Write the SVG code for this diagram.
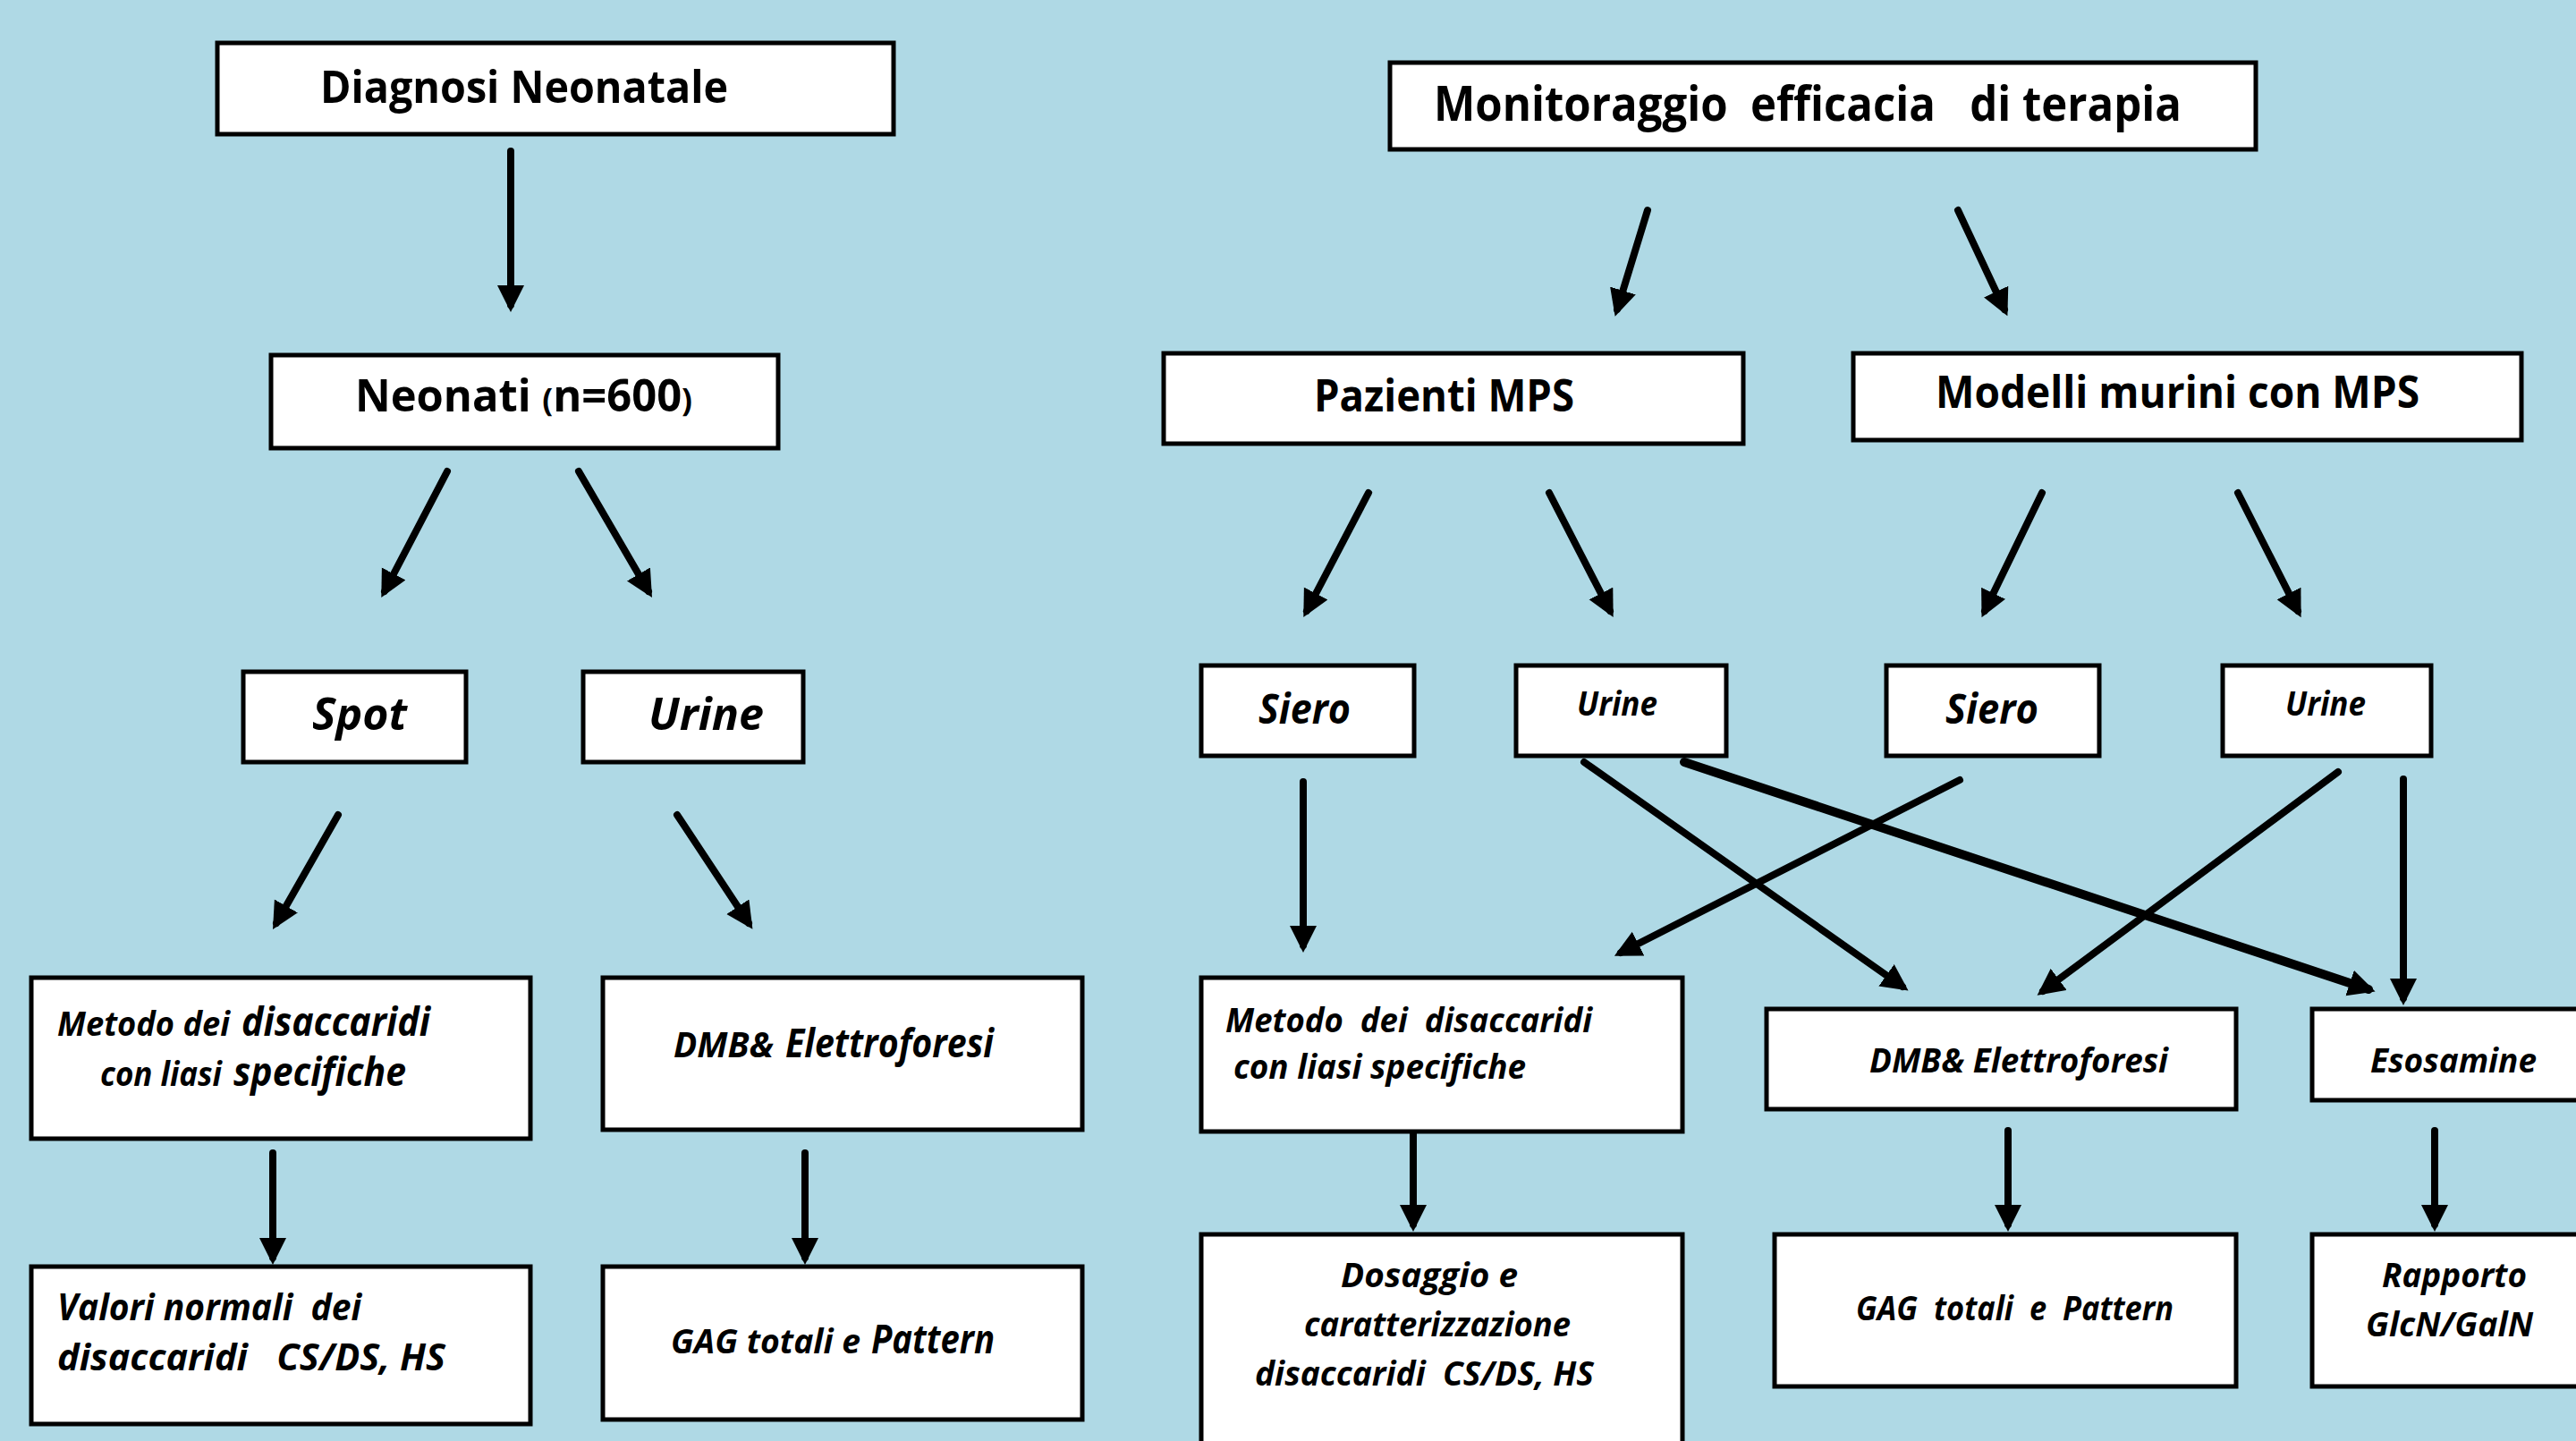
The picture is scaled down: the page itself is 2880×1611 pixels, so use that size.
<svg xmlns="http://www.w3.org/2000/svg" width="2880" height="1611" viewBox="0 0 2880 1611">
<defs>
<style>
.box{fill:#fff;stroke:#000;stroke-width:5}
.t{font-family:"Open Sans","Liberation Sans",sans-serif;font-weight:bold;fill:#000}
.i{font-style:italic}
.c line{stroke:#000;stroke-width:8;stroke-linecap:round;marker-end:url(#ah)}
</style>
<marker id="ah" markerUnits="userSpaceOnUse" markerWidth="32" markerHeight="32" refX="22" refY="15" orient="auto">
<path d="M0,0 L30,15 L0,30 z" fill="#000"/>
</marker>
</defs>
<rect x="0" y="0" width="2880" height="1611" fill="#AFD9E5"/>

<g class="c" id="connectors">
<line x1="571" y1="169" x2="571" y2="341"/>
<line x1="500" y1="527" x2="430" y2="661"/>
<line x1="647" y1="527" x2="725" y2="661"/>
<line x1="378" y1="911" x2="309" y2="1032"/>
<line x1="757" y1="911" x2="837" y2="1032"/>
<line x1="305" y1="1289" x2="305" y2="1406"/>
<line x1="900" y1="1289" x2="900" y2="1406"/>
<line x1="1842" y1="235" x2="1808" y2="346"/>
<line x1="2189" y1="235" x2="2241" y2="346"/>
<line x1="1530" y1="551" x2="1461" y2="683"/>
<line x1="1732" y1="551" x2="1800" y2="683"/>
<line x1="2283" y1="551" x2="2219" y2="683"/>
<line x1="2502" y1="551" x2="2569" y2="683"/>
<line x1="1457" y1="874" x2="1457" y2="1057"/>
<line x1="1771" y1="852" x2="2127" y2="1103"/>
<line x1="1883" y1="852" x2="2648" y2="1106" style="stroke-width:10"/>
<line x1="2191" y1="872" x2="1812" y2="1065"/>
<line x1="2614" y1="863" x2="2284" y2="1108"/>
<line x1="2687" y1="871" x2="2687" y2="1116"/>
<line x1="1580" y1="1264" x2="1580" y2="1369"/>
<line x1="2245" y1="1264" x2="2245" y2="1369"/>
<line x1="2722" y1="1264" x2="2722" y2="1369"/>
</g>

<g id="diagnosi">
<rect class="box" x="243" y="48" width="756" height="102"/>
<text class="t" x="358" y="115" font-size="50" textLength="456" lengthAdjust="spacingAndGlyphs">Diagnosi Neonatale</text>
</g>
<g id="neonati">
<rect class="box" x="303" y="397" width="567" height="104"/>
<text class="t" x="397" y="460" font-size="50" textLength="377" lengthAdjust="spacingAndGlyphs">Neonati <tspan font-size="36">(</tspan>n=600<tspan font-size="36">)</tspan></text>
</g>
<g id="spot">
<rect class="box" x="272" y="751" width="249" height="101"/>
<text class="t i" x="349" y="816" font-size="50" textLength="106" lengthAdjust="spacingAndGlyphs">Spot</text>
</g>
<g id="urine-left">
<rect class="box" x="652" y="751" width="246" height="101"/>
<text class="t i" x="725" y="816" font-size="50" textLength="129" lengthAdjust="spacingAndGlyphs">Urine</text>
</g>
<g id="metodo-left">
<rect class="box" x="35" y="1093" width="558" height="180"/>
<text class="t i" x="64" y="1158" font-size="37" textLength="193" lengthAdjust="spacingAndGlyphs">Metodo dei</text>
<text class="t i" x="270" y="1158" font-size="44" textLength="211" lengthAdjust="spacingAndGlyphs">disaccaridi</text>
<text class="t i" x="112" y="1214" font-size="37" textLength="136" lengthAdjust="spacingAndGlyphs">con liasi</text>
<text class="t i" x="261" y="1214" font-size="44" textLength="193" lengthAdjust="spacingAndGlyphs">specifiche</text>
</g>
<g id="dmb-left">
<rect class="box" x="674" y="1093" width="536" height="170"/>
<text class="t i" x="753" y="1182" font-size="40" textLength="112" lengthAdjust="spacingAndGlyphs">DMB&amp;</text>
<text class="t i" x="878" y="1182" font-size="44" textLength="233" lengthAdjust="spacingAndGlyphs">Elettroforesi</text>
</g>
<g id="valori">
<rect class="box" x="35" y="1416" width="558" height="176"/>
<text class="t i" x="64" y="1476" font-size="42" textLength="340" lengthAdjust="spacingAndGlyphs" xml:space="preserve">Valori normali  dei</text>
<text class="t i" x="64" y="1532" font-size="42" textLength="434" lengthAdjust="spacingAndGlyphs" xml:space="preserve">disaccaridi   CS/DS, HS</text>
</g>
<g id="gag-left">
<rect class="box" x="674" y="1416" width="536" height="171"/>
<text class="t i" x="750" y="1513" font-size="38" textLength="212" lengthAdjust="spacingAndGlyphs">GAG totali e</text>
<text class="t i" x="974" y="1513" font-size="44" textLength="138" lengthAdjust="spacingAndGlyphs">Pattern</text>
</g>

<g id="monitoraggio">
<rect class="box" x="1554" y="70" width="968" height="97"/>
<text class="t" x="1603" y="135" font-size="54" textLength="836" lengthAdjust="spacingAndGlyphs" xml:space="preserve">Monitoraggio  efficacia   di terapia</text>
</g>
<g id="pazienti">
<rect class="box" x="1301" y="395" width="648" height="101"/>
<text class="t" x="1469" y="460" font-size="50" textLength="291" lengthAdjust="spacingAndGlyphs">Pazienti MPS</text>
</g>
<g id="modelli">
<rect class="box" x="2072" y="395" width="747" height="97"/>
<text class="t" x="2164" y="456" font-size="50" textLength="541" lengthAdjust="spacingAndGlyphs">Modelli murini con MPS</text>
</g>
<g id="siero-1">
<rect class="box" x="1343" y="744" width="238" height="101"/>
<text class="t i" x="1407" y="809" font-size="46" textLength="103" lengthAdjust="spacingAndGlyphs">Siero</text>
</g>
<g id="urine-1">
<rect class="box" x="1695" y="744" width="235" height="101"/>
<text class="t i" x="1763" y="800" font-size="38" textLength="90" lengthAdjust="spacingAndGlyphs">Urine</text>
</g>
<g id="siero-2">
<rect class="box" x="2109" y="744" width="238" height="101"/>
<text class="t i" x="2175" y="809" font-size="46" textLength="104" lengthAdjust="spacingAndGlyphs">Siero</text>
</g>
<g id="urine-2">
<rect class="box" x="2485" y="744" width="233" height="101"/>
<text class="t i" x="2555" y="800" font-size="38" textLength="90" lengthAdjust="spacingAndGlyphs">Urine</text>
</g>
<g id="metodo-right">
<rect class="box" x="1343" y="1093" width="538" height="172"/>
<text class="t i" x="1370" y="1154" font-size="38" textLength="410" lengthAdjust="spacingAndGlyphs" xml:space="preserve">Metodo  dei  disaccaridi</text>
<text class="t i" x="1379" y="1206" font-size="38" textLength="327" lengthAdjust="spacingAndGlyphs">con liasi specifiche</text>
</g>
<g id="dmb-right">
<rect class="box" x="1975" y="1128" width="525" height="112"/>
<text class="t i" x="2090" y="1199" font-size="38" textLength="334" lengthAdjust="spacingAndGlyphs">DMB&amp; Elettroforesi</text>
</g>
<g id="esosamine">
<rect class="box" x="2585" y="1128" width="310" height="102"/>
<text class="t i" x="2650" y="1199" font-size="38" textLength="186" lengthAdjust="spacingAndGlyphs">Esosamine</text>
</g>
<g id="dosaggio">
<rect class="box" x="1343" y="1380" width="538" height="250"/>
<text class="t i" x="1499" y="1439" font-size="38" textLength="198" lengthAdjust="spacingAndGlyphs">Dosaggio e</text>
<text class="t i" x="1458" y="1494" font-size="38" textLength="298" lengthAdjust="spacingAndGlyphs">caratterizzazione</text>
<text class="t i" x="1403" y="1549" font-size="38" textLength="379" lengthAdjust="spacingAndGlyphs" xml:space="preserve">disaccaridi  CS/DS, HS</text>
</g>
<g id="gag-right">
<rect class="box" x="1984" y="1380" width="516" height="170"/>
<text class="t i" x="2075" y="1476" font-size="38" textLength="355" lengthAdjust="spacingAndGlyphs" xml:space="preserve">GAG  totali  e  Pattern</text>
</g>
<g id="rapporto">
<rect class="box" x="2585" y="1380" width="310" height="170"/>
<text class="t i" x="2663" y="1439" font-size="38" textLength="162" lengthAdjust="spacingAndGlyphs">Rapporto</text>
<text class="t i" x="2645" y="1494" font-size="38" textLength="187" lengthAdjust="spacingAndGlyphs">GlcN/GalN</text>
</g>
</svg>
